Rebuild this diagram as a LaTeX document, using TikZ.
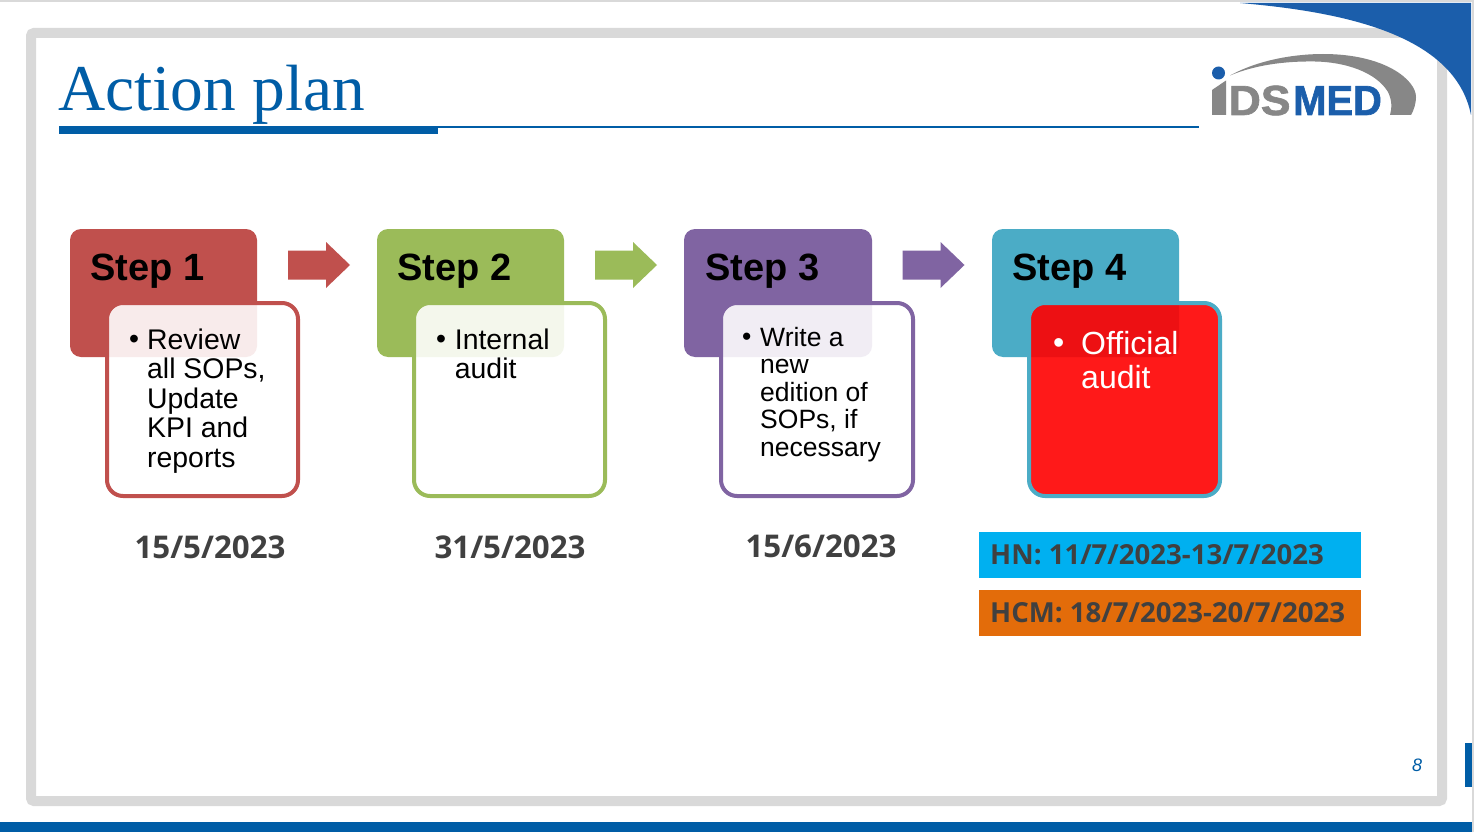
\documentclass[tikz,border=0pt]{standalone}
\usepackage{fontspec}
\setmainfont{Liberation Sans}
\newfontfamily\serifface{Liberation Serif}
\newfontfamily\dateface{Open Sans}
\newfontfamily\logoface[BoldFeatures={FakeBold=1.5}]{Liberation Sans}
\definecolor{cred}{HTML}{C0504D}
\definecolor{cgreen}{HTML}{9BBB59}
\definecolor{cpurple}{HTML}{8064A2}
\definecolor{cteal}{HTML}{4BACC6}
\definecolor{frameg}{HTML}{D9D9D9}
\definecolor{titleblue}{HTML}{005DA6}
\definecolor{cornerblue}{HTML}{1B5EAB}
\definecolor{logog}{HTML}{878787}
\definecolor{dategrey}{HTML}{404040}
\definecolor{hnblue}{HTML}{00B0F0}
\definecolor{hcmorange}{HTML}{E36C0A}
\newcommand{\bul}{\vphantom{R}•}
\tikzset{
  x=1pt,y=-1pt,
  headbox/.style={rounded corners=11pt,draw=none},
  innerbox/.style={rounded corners=16pt,line width=4pt},
  steplabel/.style={font=\fontsize{38}{40}\selectfont\bfseries,anchor=base west,inner sep=0,text=black},
  bodytext/.style={anchor=north west,inner sep=0,align=left},
  dateline/.style={font=\dateface\fontsize{31.3}{36}\selectfont\bfseries,text=dategrey,inner sep=0,anchor=base},
  rangeline/.style={font=\dateface\fontsize{27.6}{32}\selectfont\bfseries,text=dategrey,inner sep=0,anchor=base west},
  bigarrow/.style={draw=none},
}
\newcommand{\blockarrow}[3]{% x y colour : left end, centre line
  \fill[#3,bigarrow] (#1,#2-14.5) -- ++(38,0) -- ++(0,-8.5) -- ++(24,23) -- ++(-24,23) -- ++(0,-8.5) -- ++(-38,0) -- cycle;}
\begin{document}
\begin{tikzpicture}
\useasboundingbox (0,0) rectangle (1474,832);
\fill[white] (0,0) rectangle (1474,832);
% page edges
\fill[frameg] (0,0) rectangle (1474,2);
\fill[frameg] (1472,0) rectangle (1474,832);
% frame
\draw[frameg,line width=10pt,rounded corners=3pt] (31,33) rectangle (1442,801);
% corner
\fill[cornerblue] (1240,3) .. controls (1345,12) and (1455,35) .. (1471,115) -- (1471,3) -- cycle;
% bottom bars
\fill[titleblue] (0,822) rectangle (1472,832);
\fill[titleblue] (1465,743) rectangle (1472,787);
% title
\node[font=\serifface\fontsize{65.4}{68}\selectfont,text=titleblue,anchor=base west,inner sep=0] (title) at (58,110.8) {Action plan};
\fill[titleblue] (59,126.5) rectangle (438,133.5);
\fill[titleblue] (438,126.5) rectangle (1199,128);
% logo
\fill[logog] (1230,75.5) .. controls (1262,58) and (1300,54) .. (1323,54) .. controls (1385,54) and (1416,80) .. (1416,97) .. controls (1416,103) and (1414,110) .. (1411,115) -- (1390,115) .. controls (1392,108) and (1392,100) .. (1388,92) .. controls (1376,72) and (1345,62) .. (1315,61.5) .. controls (1285,61) and (1255,65) .. (1230,75.5) -- cycle;
\fill[logog] (1212,115) -- (1212,90) -- (1226,80.5) -- (1226,115) -- cycle;
\fill[cornerblue] (1218.5,73) circle (6.5);
\node[font=\logoface\fontsize{42}{44}\selectfont\bfseries,text=logog,anchor=base west,inner sep=0,xscale=1.06] (logods) at (1228.5,115) {DS};
\node[font=\logoface\fontsize{42}{44}\selectfont\bfseries,text=cornerblue,anchor=base west,inner sep=0,xscale=.95] (logomed) at (1293,115) {MED};
% arrows
\blockarrow{288}{265}{cred}
\blockarrow{595}{265}{cgreen}
\blockarrow{902.5}{265}{cpurple}
% step 1
\fill[cred,headbox] (70,229) rectangle (257,357);
\node[steplabel] (s1) at (90,280.5) {Step 1};
\fill[white,fill opacity=.89,innerbox] (107,303) rectangle (298,496);
\draw[cred,innerbox] (107,303) rectangle (298,496);
\node[bodytext,font=\fontsize{28.4}{29.5}\selectfont] (b1) at (129,328.7) {\bul};
\node[bodytext,font=\fontsize{28.4}{29.5}\selectfont] (t1) at (147,328.7) {Review\\all SOPs,\\Update\\KPI and\\reports};
% step 2
\fill[cgreen,headbox] (377,229) rectangle (564,357);
\node[steplabel] (s2) at (397,280.5) {Step 2};
\fill[white,fill opacity=.89,innerbox] (414,303) rectangle (605,496);
\draw[cgreen,innerbox] (414,303) rectangle (605,496);
\node[bodytext,font=\fontsize{28.4}{29.5}\selectfont] (b2) at (436,328.7) {\bul};
\node[bodytext,font=\fontsize{28.4}{29.5}\selectfont] (t2) at (454.7,328.7) {Internal\\audit};
% step 3
\fill[cpurple,headbox] (684,229) rectangle (872,357);
\node[steplabel] (s3) at (705,280.5) {Step 3};
\fill[white,fill opacity=.89,innerbox] (721,303) rectangle (913,496);
\draw[cpurple,innerbox] (721,303) rectangle (913,496);
\node[bodytext,font=\fontsize{26.5}{27.5}\selectfont] (b3) at (742,326.7) {\bul};
\node[bodytext,font=\fontsize{26.5}{27.5}\selectfont] (t3) at (760,326.7) {Write a\\new\\edition of\\SOPs, if\\necessary};
% step 4
\fill[cteal,headbox] (992,229) rectangle (1179,357);
\node[steplabel] (s4) at (1012,280.5) {Step 4};
\fill[red,fill opacity=.9,innerbox] (1029,303) rectangle (1220,496);
\draw[cteal,innerbox] (1029,303) rectangle (1220,496);
\node[bodytext,text=white,font=\fontsize{32}{34}\selectfont] (b4) at (1053,331) {\bul};
\node[bodytext,text=white,font=\fontsize{32}{34}\selectfont] (t4) at (1081,331) {Official\\audit};
% dates
\node[dateline] (d1) at (210,558) {15/5/2023};
\node[dateline] (d2) at (510,558) {31/5/2023};
\node[dateline] (d3) at (821,557) {15/6/2023};
\fill[hnblue] (979,532) rectangle (1361,578);
\node[rangeline] (hn) at (990,564.5) {HN: 11/7/2023-13/7/2023};
\fill[hcmorange] (979,590) rectangle (1361,636);
\node[rangeline] (hcm) at (990,622.5) {HCM: 18/7/2023-20/7/2023};
% page number
\node[font=\fontsize{18}{18}\selectfont\itshape,text=titleblue,inner sep=0] (pg) at (1417,765) {8};
\end{tikzpicture}
\end{document}
